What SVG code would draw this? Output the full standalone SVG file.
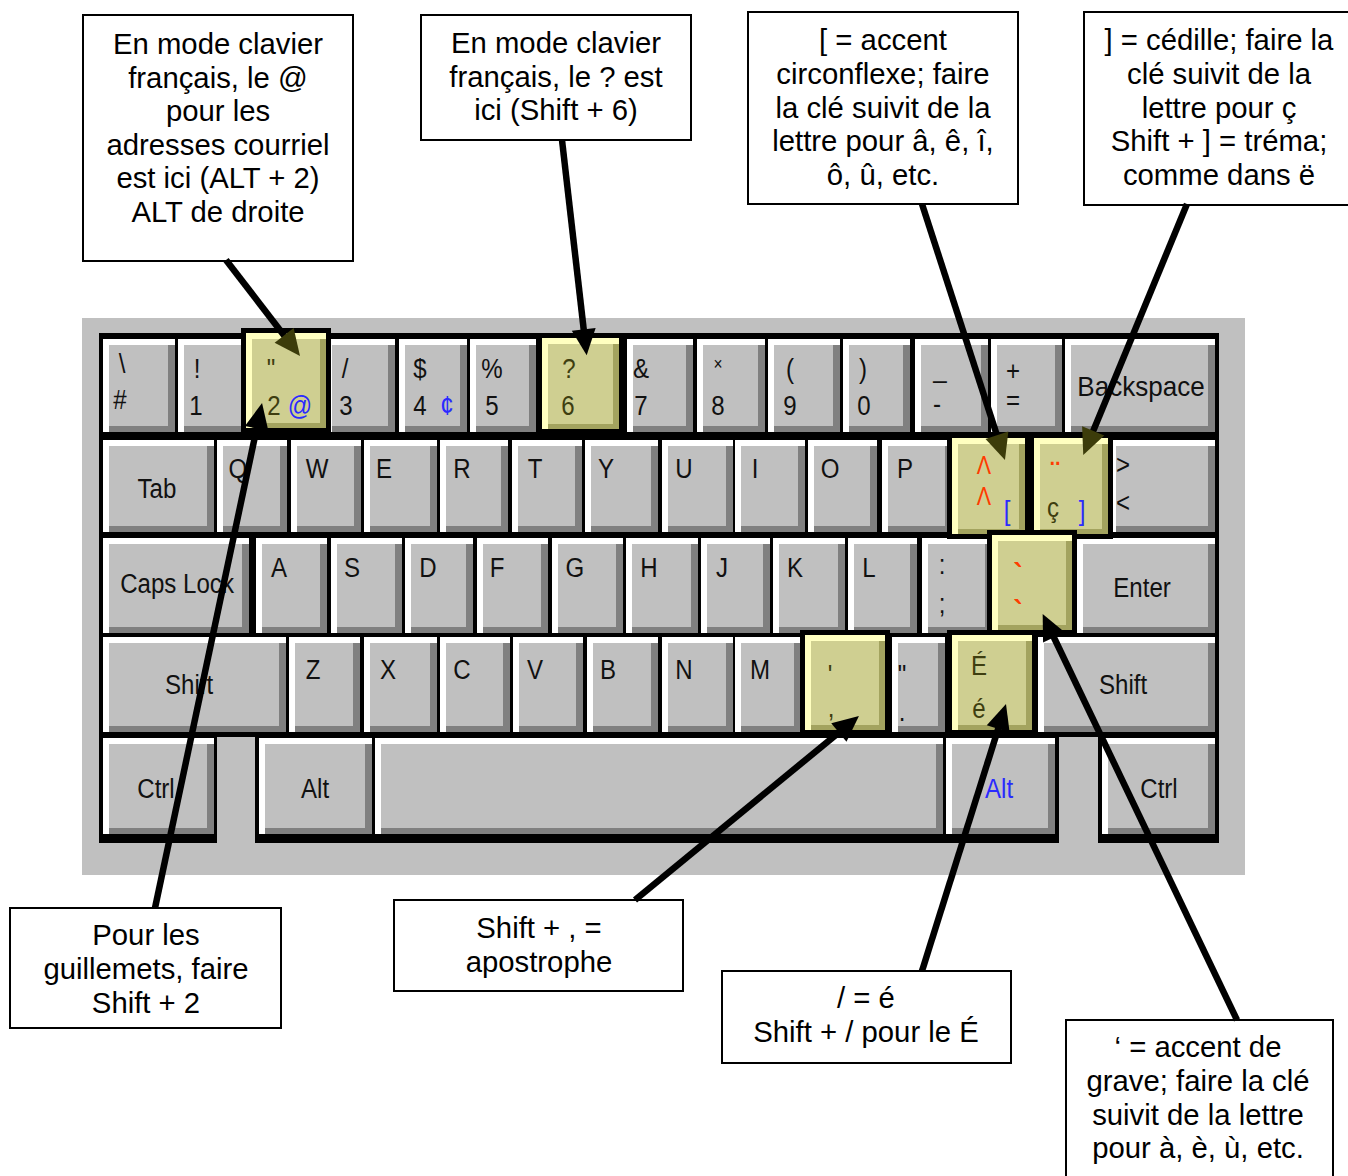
<svg xmlns="http://www.w3.org/2000/svg" width="1348" height="1176" viewBox="0 0 1348 1176">
<style>
.kw{fill:#ffffff}
.kd{fill:#808080}
.kf{fill:#c0c0c0}
.hb{fill:#000}
.hl{fill:#ffffc0}
.hd{fill:#a3a35f}
.hf{fill:#cfcf91}
.k{font-family:"Liberation Sans",Arial,sans-serif;font-size:28px;fill:#111;text-anchor:middle;transform-box:fill-box;transform-origin:center;transform:scaleX(0.86)}
.kb{transform:scaleX(0.93)}
.ol{fill:#3e3e10}
.bl{fill:#2a2aff}
.rd{fill:#ff3c00}
.sm{font-size:18px}
.box{fill:#fff;stroke:#000;stroke-width:2}
.t{font-family:"Liberation Sans",Arial,sans-serif;font-size:29.3px;fill:#000;text-anchor:middle}
.c{fill:none;stroke:#000;stroke-width:6.5}
</style>
<defs>
<marker id="ah" markerUnits="userSpaceOnUse" markerWidth="26" markerHeight="24" refX="6" refY="12" orient="auto" overflow="visible"><path d="M0,0 L26,12 L0,24 Z" fill="#000"/></marker>
<marker id="ao" markerUnits="userSpaceOnUse" markerWidth="26" markerHeight="24" refX="6" refY="12" orient="auto" overflow="visible"><path d="M0,0 L26,12 L0,24 Z" fill="#3c3c0a"/></marker>
</defs>

<g id="keyboard">
<rect x="82" y="318" width="1163" height="557" fill="#c0c0c0"/>
<rect x="99" y="333" width="1120" height="404" fill="#000"/>
<rect x="99" y="733" width="118" height="110" fill="#000"/>
<rect x="255" y="733" width="804" height="110" fill="#000"/>
<rect x="1098" y="733" width="121" height="110" fill="#000"/>

<g id="row1">
<rect class="kw" x="103" y="339" width="72" height="93"/><rect class="kd" x="109" y="345" width="66" height="87"/><rect class="kf" x="109" y="345" width="59" height="81"/>
<rect class="kw" x="178" y="339" width="70" height="93"/><rect class="kd" x="184" y="345" width="64" height="87"/><rect class="kf" x="184" y="345" width="57" height="81"/>
<rect class="kw" x="326" y="339" width="69" height="93"/><rect class="kd" x="332" y="345" width="63" height="87"/><rect class="kf" x="332" y="345" width="56" height="81"/>
<rect class="kw" x="399" y="339" width="68" height="93"/><rect class="kd" x="405" y="345" width="62" height="87"/><rect class="kf" x="405" y="345" width="55" height="81"/>
<rect class="kw" x="470" y="339" width="66" height="93"/><rect class="kd" x="476" y="345" width="60" height="87"/><rect class="kf" x="476" y="345" width="53" height="81"/>
<rect class="kw" x="627" y="339" width="66" height="93"/><rect class="kd" x="633" y="345" width="60" height="87"/><rect class="kf" x="633" y="345" width="53" height="81"/>
<rect class="kw" x="697" y="339" width="68" height="93"/><rect class="kd" x="703" y="345" width="62" height="87"/><rect class="kf" x="703" y="345" width="55" height="81"/>
<rect class="kw" x="768" y="339" width="72" height="93"/><rect class="kd" x="774" y="345" width="66" height="87"/><rect class="kf" x="774" y="345" width="59" height="81"/>
<rect class="kw" x="843" y="339" width="67" height="93"/><rect class="kd" x="849" y="345" width="61" height="87"/><rect class="kf" x="849" y="345" width="54" height="81"/>
<rect class="kw" x="915" y="339" width="73" height="93"/><rect class="kd" x="921" y="345" width="67" height="87"/><rect class="kf" x="921" y="345" width="60" height="81"/>
<rect class="kw" x="991" y="339" width="71" height="93"/><rect class="kd" x="997" y="345" width="65" height="87"/><rect class="kf" x="997" y="345" width="58" height="81"/>
<rect class="kw" x="1065" y="339" width="150" height="93"/><rect class="kd" x="1071" y="345" width="144" height="87"/><rect class="kf" x="1071" y="345" width="137" height="81"/>
</g>

<g id="row2">
<rect class="kw" x="103" y="440" width="111" height="92"/><rect class="kd" x="109" y="446" width="105" height="86"/><rect class="kf" x="109" y="446" width="98" height="80"/>
<rect class="kw" x="217" y="440" width="70" height="92"/><rect class="kd" x="223" y="446" width="64" height="86"/><rect class="kf" x="223" y="446" width="57" height="80"/>
<rect class="kw" x="291" y="440" width="70" height="92"/><rect class="kd" x="297" y="446" width="64" height="86"/><rect class="kf" x="297" y="446" width="57" height="80"/>
<rect class="kw" x="364" y="440" width="73" height="92"/><rect class="kd" x="370" y="446" width="67" height="86"/><rect class="kf" x="370" y="446" width="60" height="80"/>
<rect class="kw" x="440" y="440" width="68" height="92"/><rect class="kd" x="446" y="446" width="62" height="86"/><rect class="kf" x="446" y="446" width="55" height="80"/>
<rect class="kw" x="512" y="440" width="70" height="92"/><rect class="kd" x="518" y="446" width="64" height="86"/><rect class="kf" x="518" y="446" width="57" height="80"/>
<rect class="kw" x="585" y="440" width="73" height="92"/><rect class="kd" x="591" y="446" width="67" height="86"/><rect class="kf" x="591" y="446" width="60" height="80"/>
<rect class="kw" x="662" y="440" width="71" height="92"/><rect class="kd" x="668" y="446" width="65" height="86"/><rect class="kf" x="668" y="446" width="58" height="80"/>
<rect class="kw" x="735" y="440" width="70" height="92"/><rect class="kd" x="741" y="446" width="64" height="86"/><rect class="kf" x="741" y="446" width="57" height="80"/>
<rect class="kw" x="808" y="440" width="69" height="92"/><rect class="kd" x="814" y="446" width="63" height="86"/><rect class="kf" x="814" y="446" width="56" height="80"/>
<rect class="kw" x="882" y="440" width="70" height="92"/><rect class="kd" x="888" y="446" width="64" height="86"/><rect class="kf" x="888" y="446" width="57" height="80"/>
<rect class="kw" x="1110" y="440" width="105" height="92"/><rect class="kd" x="1116" y="446" width="99" height="86"/><rect class="kf" x="1116" y="446" width="92" height="80"/>
</g>

<g id="row3">
<rect class="kw" x="103" y="538" width="146" height="95"/><rect class="kd" x="109" y="544" width="140" height="89"/><rect class="kf" x="109" y="544" width="133" height="83"/>
<rect class="kw" x="256" y="538" width="71" height="95"/><rect class="kd" x="262" y="544" width="65" height="89"/><rect class="kf" x="262" y="544" width="58" height="83"/>
<rect class="kw" x="331" y="538" width="71" height="95"/><rect class="kd" x="337" y="544" width="65" height="89"/><rect class="kf" x="337" y="544" width="58" height="83"/>
<rect class="kw" x="405" y="538" width="68" height="95"/><rect class="kd" x="411" y="544" width="62" height="89"/><rect class="kf" x="411" y="544" width="55" height="83"/>
<rect class="kw" x="477" y="538" width="71" height="95"/><rect class="kd" x="483" y="544" width="65" height="89"/><rect class="kf" x="483" y="544" width="58" height="83"/>
<rect class="kw" x="552" y="538" width="71" height="95"/><rect class="kd" x="558" y="544" width="65" height="89"/><rect class="kf" x="558" y="544" width="58" height="83"/>
<rect class="kw" x="626" y="538" width="72" height="95"/><rect class="kd" x="632" y="544" width="66" height="89"/><rect class="kf" x="632" y="544" width="59" height="83"/>
<rect class="kw" x="701" y="538" width="69" height="95"/><rect class="kd" x="707" y="544" width="63" height="89"/><rect class="kf" x="707" y="544" width="56" height="83"/>
<rect class="kw" x="773" y="538" width="72" height="95"/><rect class="kd" x="779" y="544" width="66" height="89"/><rect class="kf" x="779" y="544" width="59" height="83"/>
<rect class="kw" x="848" y="538" width="69" height="95"/><rect class="kd" x="854" y="544" width="63" height="89"/><rect class="kf" x="854" y="544" width="56" height="83"/>
<rect class="kw" x="922" y="538" width="70" height="95"/><rect class="kd" x="928" y="544" width="64" height="89"/><rect class="kf" x="928" y="544" width="57" height="83"/>
<rect class="kw" x="1077" y="538" width="138" height="95"/><rect class="kd" x="1083" y="544" width="132" height="89"/><rect class="kf" x="1083" y="544" width="125" height="83"/>
</g>

<g id="row4">
<rect class="kw" x="103" y="637" width="183" height="95"/><rect class="kd" x="109" y="643" width="177" height="89"/><rect class="kf" x="109" y="643" width="170" height="83"/>
<rect class="kw" x="289" y="637" width="71" height="95"/><rect class="kd" x="295" y="643" width="65" height="89"/><rect class="kf" x="295" y="643" width="58" height="83"/>
<rect class="kw" x="364" y="637" width="73" height="95"/><rect class="kd" x="370" y="643" width="67" height="89"/><rect class="kf" x="370" y="643" width="60" height="83"/>
<rect class="kw" x="440" y="637" width="70" height="95"/><rect class="kd" x="446" y="643" width="64" height="89"/><rect class="kf" x="446" y="643" width="57" height="83"/>
<rect class="kw" x="513" y="637" width="70" height="95"/><rect class="kd" x="519" y="643" width="64" height="89"/><rect class="kf" x="519" y="643" width="57" height="83"/>
<rect class="kw" x="587" y="637" width="71" height="95"/><rect class="kd" x="593" y="643" width="65" height="89"/><rect class="kf" x="593" y="643" width="58" height="83"/>
<rect class="kw" x="662" y="637" width="71" height="95"/><rect class="kd" x="668" y="643" width="65" height="89"/><rect class="kf" x="668" y="643" width="58" height="83"/>
<rect class="kw" x="735" y="637" width="66" height="95"/><rect class="kd" x="741" y="643" width="60" height="89"/><rect class="kf" x="741" y="643" width="53" height="83"/>
<rect class="kw" x="892" y="637" width="53" height="95"/><rect class="kd" x="898" y="643" width="47" height="89"/><rect class="kf" x="898" y="643" width="40" height="83"/>
<rect class="kw" x="1038" y="637" width="177" height="95"/><rect class="kd" x="1044" y="643" width="171" height="89"/><rect class="kf" x="1044" y="643" width="164" height="83"/>
</g>

<g id="row5">
<rect class="kw" x="103" y="738" width="111" height="96"/><rect class="kd" x="109" y="744" width="105" height="90"/><rect class="kf" x="109" y="744" width="98" height="84"/>
<rect class="kw" x="259" y="738" width="113" height="96"/><rect class="kd" x="265" y="744" width="107" height="90"/><rect class="kf" x="265" y="744" width="100" height="84"/>
<rect class="kw" x="375" y="738" width="568" height="96"/><rect class="kd" x="381" y="744" width="562" height="90"/><rect class="kf" x="381" y="744" width="555" height="84"/>
<rect class="kw" x="946" y="738" width="109" height="96"/><rect class="kd" x="952" y="744" width="103" height="90"/><rect class="kf" x="952" y="744" width="96" height="84"/>
<rect class="kw" x="1102" y="738" width="113" height="96"/><rect class="kd" x="1108" y="744" width="107" height="90"/><rect class="kf" x="1108" y="744" width="100" height="84"/>
</g>

<g id="hl-2"><rect class="hb" x="241" y="328" width="90" height="105"/><rect class="hl" x="246" y="333" width="80" height="95"/><rect class="hd" x="252" y="339" width="74" height="89"/><rect class="hf" x="252" y="339" width="68" height="84"/></g>
<g id="hl-6"><rect class="hb" x="537" y="333" width="87" height="101"/><rect class="hl" x="542" y="338" width="77" height="91"/><rect class="hd" x="548" y="344" width="71" height="85"/><rect class="hf" x="548" y="344" width="65" height="80"/></g>
<g id="hl-lb"><rect class="hb" x="947" y="433" width="83" height="106"/><rect class="hl" x="952" y="438" width="73" height="96"/><rect class="hd" x="958" y="444" width="67" height="90"/><rect class="hf" x="958" y="444" width="61" height="85"/></g>
<g id="hl-rb"><rect class="hb" x="1029" y="433" width="84" height="106"/><rect class="hl" x="1034" y="438" width="74" height="96"/><rect class="hd" x="1040" y="444" width="68" height="90"/><rect class="hf" x="1040" y="444" width="62" height="85"/></g>
<g id="hl-grave"><rect class="hb" x="987" y="530" width="90" height="105"/><rect class="hl" x="992" y="535" width="80" height="95"/><rect class="hd" x="998" y="541" width="74" height="89"/><rect class="hf" x="998" y="541" width="68" height="84"/></g>
<g id="hl-comma"><rect class="hb" x="800" y="630" width="90" height="105"/><rect class="hl" x="805" y="635" width="80" height="95"/><rect class="hd" x="811" y="641" width="74" height="89"/><rect class="hf" x="811" y="641" width="68" height="84"/></g>
<g id="hl-eacute"><rect class="hb" x="947" y="630" width="90" height="105"/><rect class="hl" x="952" y="635" width="80" height="95"/><rect class="hd" x="958" y="641" width="74" height="89"/><rect class="hf" x="958" y="641" width="68" height="84"/></g>

<g id="labels">
<text class="k" x="122" y="373">\</text><text class="k" x="120" y="409">#</text>
<text class="k" x="197" y="378">!</text><text class="k" x="196" y="415">1</text>
<text class="k ol" x="271" y="378">"</text><text class="k ol" x="274" y="415">2</text><text class="k bl" x="300" y="415">@</text>
<text class="k" x="345" y="378">/</text><text class="k" x="346" y="415">3</text>
<text class="k" x="420" y="378">$</text><text class="k" x="420" y="415">4</text><text class="k bl" x="447" y="415">¢</text>
<text class="k" x="492" y="378">%</text><text class="k" x="492" y="415">5</text>
<text class="k ol" x="569" y="378">?</text><text class="k ol" x="568" y="415">6</text>
<text class="k" x="641" y="378">&amp;</text><text class="k" x="641" y="415">7</text>
<text class="k sm" x="718" y="370">×</text><text class="k" x="718" y="415">8</text>
<text class="k" x="790" y="378">(</text><text class="k" x="790" y="415">9</text>
<text class="k" x="863" y="378">)</text><text class="k" x="864" y="415">0</text>
<text class="k" x="940" y="377">_</text><text class="k" x="937" y="413">-</text>
<text class="k" x="1013" y="380">+</text><text class="k" x="1013" y="410">=</text>
<text class="k kb" x="1141" y="396">Backspace</text>

<text class="k" x="157" y="498">Tab</text>
<text class="k" x="238" y="478">Q</text><text class="k" x="317" y="478">W</text><text class="k" x="384" y="478">E</text><text class="k" x="462" y="478">R</text><text class="k" x="535" y="478">T</text><text class="k" x="606" y="478">Y</text><text class="k" x="684" y="478">U</text><text class="k" x="755" y="478">I</text><text class="k" x="830" y="478">O</text><text class="k" x="905" y="478">P</text>
<text class="k rd" x="984" y="474" style="font-size:25px">Λ</text><text class="k rd" x="984" y="505" style="font-size:25px">Λ</text><text class="k bl" x="1007" y="520">[</text>
<text class="k rd" x="1055" y="482" style="font-size:30px;font-weight:bold">¨</text><text class="k ol" x="1053" y="517">ç</text><text class="k bl" x="1082" y="520">]</text>
<text class="k" x="1123" y="474">&gt;</text><text class="k" x="1123" y="512">&lt;</text>

<text class="k" x="177" y="593">Caps Lock</text>
<text class="k" x="279" y="577">A</text><text class="k" x="352" y="577">S</text><text class="k" x="428" y="577">D</text><text class="k" x="497" y="577">F</text><text class="k" x="575" y="577">G</text><text class="k" x="649" y="577">H</text><text class="k" x="722" y="577">J</text><text class="k" x="795" y="577">K</text><text class="k" x="869" y="577">L</text>
<text class="k" x="942" y="574">:</text><text class="k" x="942" y="613">;</text>
<text class="k rd" x="1018" y="585" style="font-size:32px;font-weight:bold">`</text><text class="k rd" x="1018" y="622" style="font-size:32px;font-weight:bold">`</text>
<text class="k" x="1142" y="597">Enter</text>

<text class="k" x="189" y="694">Shift</text>
<text class="k" x="313" y="679">Z</text><text class="k" x="388" y="679">X</text><text class="k" x="462" y="679">C</text><text class="k" x="535" y="679">V</text><text class="k" x="608" y="679">B</text><text class="k" x="684" y="679">N</text><text class="k" x="760" y="679">M</text>
<text class="k ol" x="830" y="684">'</text><text class="k ol" x="831" y="717">,</text>
<text class="k" x="902" y="684">"</text><text class="k" x="902" y="721">.</text>
<text class="k ol" x="979" y="675">É</text><text class="k ol" x="979" y="718">é</text>
<text class="k" x="1123" y="694">Shift</text>

<text class="k" x="156" y="798">Ctrl</text>
<text class="k" x="315" y="798">Alt</text>
<text class="k bl" x="999" y="798">Alt</text>
<text class="k" x="1159" y="798">Ctrl</text>
</g>
</g>

<g id="callout-at">
<rect class="box" x="83" y="15" width="270" height="246"/>
<text class="t" x="218" y="54">En mode clavier</text>
<text class="t" x="218" y="87.5">français, le @</text>
<text class="t" x="218" y="121">pour les</text>
<text class="t" x="218" y="154.5">adresses courriel</text>
<text class="t" x="218" y="188">est ici (ALT + 2)</text>
<text class="t" x="218" y="221.5">ALT de droite</text>
</g>
<g id="callout-question">
<rect class="box" x="421" y="15" width="270" height="125"/>
<text class="t" x="556" y="53">En mode clavier</text>
<text class="t" x="556" y="87">français, le ? est</text>
<text class="t" x="556" y="120">ici (Shift + 6)</text>
</g>
<g id="callout-circ">
<rect class="box" x="748" y="12" width="270" height="192"/>
<text class="t" x="883" y="50">[ = accent</text>
<text class="t" x="883" y="84">circonflexe; faire</text>
<text class="t" x="883" y="117.5">la clé suivit de la</text>
<text class="t" x="883" y="151">lettre pour â, ê, î,</text>
<text class="t" x="883" y="184.5">ô, û, etc.</text>
</g>
<g id="callout-cedille">
<rect class="box" x="1084" y="12" width="280" height="193"/>
<text class="t" x="1219" y="50">] = cédille; faire la</text>
<text class="t" x="1219" y="84">clé suivit de la</text>
<text class="t" x="1219" y="117.5">lettre pour ç</text>
<text class="t" x="1219" y="151">Shift + ] = tréma;</text>
<text class="t" x="1219" y="184.5">comme dans ë</text>
</g>
<g id="callout-guillemets">
<rect class="box" x="10" y="908" width="271" height="120"/>
<text class="t" x="146" y="945">Pour les</text>
<text class="t" x="146" y="979">guillemets, faire</text>
<text class="t" x="146" y="1012.5">Shift + 2</text>
</g>
<g id="callout-apostrophe">
<rect class="box" x="394" y="900" width="289" height="91"/>
<text class="t" x="539" y="938">Shift + , =</text>
<text class="t" x="539" y="971.5">apostrophe</text>
</g>
<g id="callout-eacute">
<rect class="box" x="722" y="971" width="289" height="92"/>
<text class="t" x="866" y="1008">/ = é</text>
<text class="t" x="866" y="1041.5">Shift + / pour le É</text>
</g>
<g id="callout-grave">
<rect class="box" x="1066" y="1020" width="267" height="170"/>
<text class="t" x="1198" y="1057">‘ = accent de</text>
<text class="t" x="1198" y="1091">grave; faire la clé</text>
<text class="t" x="1198" y="1124.5">suivit de la lettre</text>
<text class="t" x="1198" y="1158">pour à, è, ù, etc.</text>
</g>

<g id="connectors">
<path class="c" d="M226,260 L287.8,340.2" marker-end="url(#ao)"/>
<path class="c" d="M562,140 L584.4,335.4" marker-end="url(#ah)"/>
<path class="c" d="M922,204 L998.8,441" marker-end="url(#ao)"/>
<path class="c" d="M1187,204 L1090.9,436.5" marker-end="url(#ao)"/>
<path class="c" d="M1237,1020 L1051.3,632" marker-end="url(#ah)"/>
<path class="c" d="M155,908 L257.9,422.6" marker-end="url(#ah)"/>
<path class="c" d="M635,900 L843.5,728.7" marker-end="url(#ah)"/>
<path class="c" d="M922,971 L1000,723.1" marker-end="url(#ah)"/>
</g>
</svg>
